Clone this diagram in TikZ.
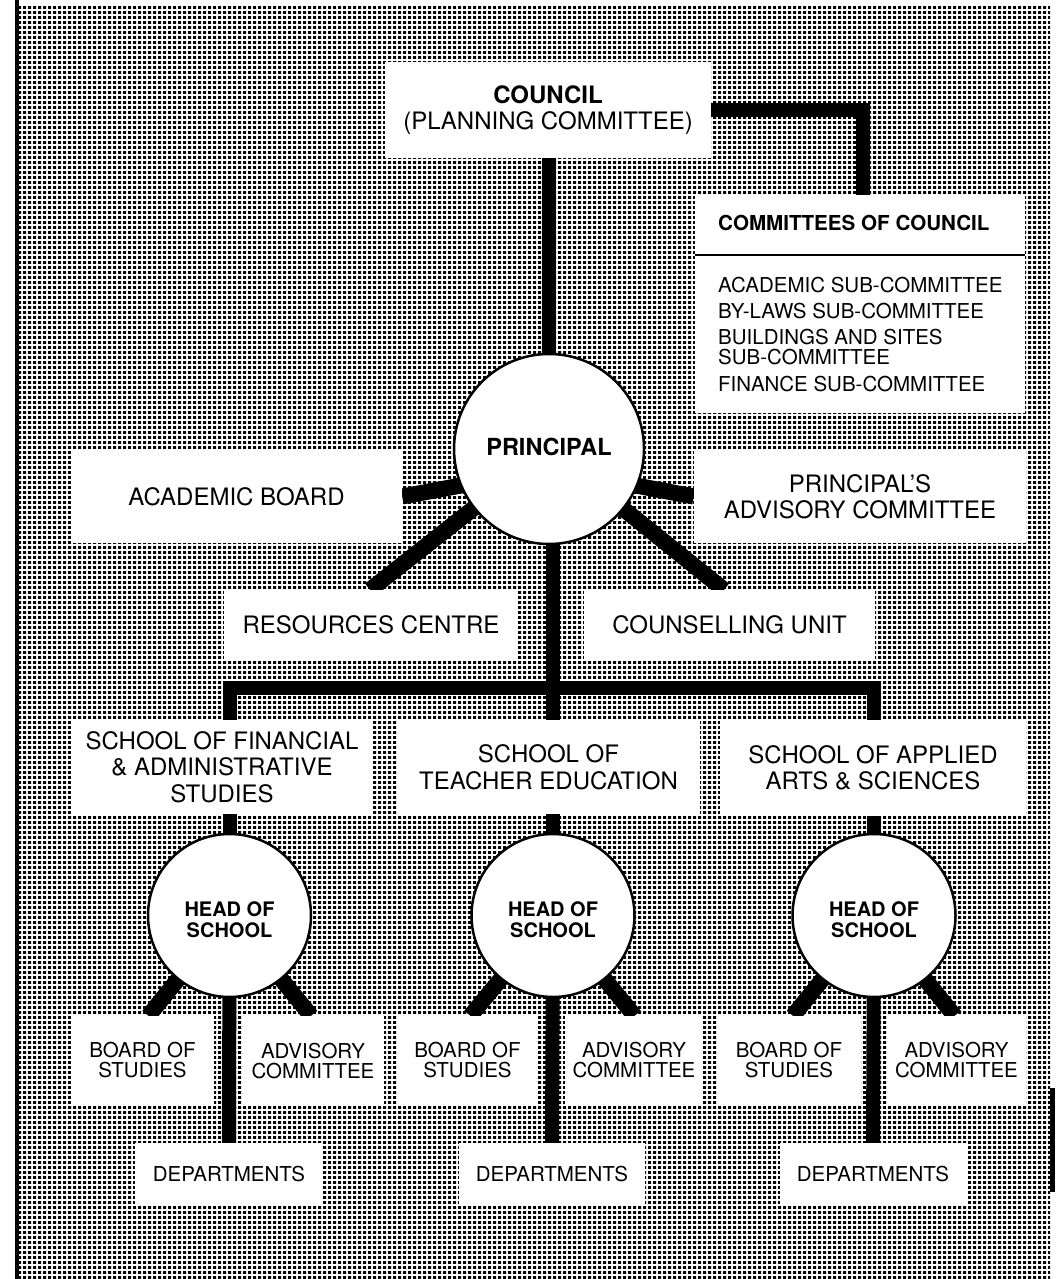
\documentclass[tikz,border=0pt]{standalone}
\usepackage{fontspec}
\setmainfont{TeX Gyre Heros}
\usetikzlibrary{patterns}
\pgfdeclarepatternformonly{halftone}{\pgfpointorigin}{\pgfpoint{4.6pt}{4.5pt}}{\pgfpoint{4.6pt}{4.5pt}}{%
  \pgfpathrectangle{\pgfpointorigin}{\pgfpoint{3.3pt}{3.1pt}}\pgfusepath{fill}}
\pgfdeclarelayer{bg}
\pgfdeclarelayer{links}
\pgfsetlayers{bg,links,main}
\begin{document}
\begin{tikzpicture}[x=1pt,y=-1pt,
  box/.style={fill=white, inner sep=0pt, align=center, text=black},
  big/.style={font=\fontsize{24}{26.5}\selectfont},
  small/.style={font=\fontsize{20.5}{20.5}\selectfont},
  bigb/.style={font=\bfseries\fontsize{23.5}{26.5}\selectfont},
  smallb/.style={font=\bfseries\fontsize{20}{21.5}\selectfont},
  item/.style={font=\fontsize{20.5}{20.5}\selectfont, anchor=base west, inner sep=0pt},
  conn/.style={line width=14pt, black, line join=miter, line cap=butt},
  slant/.style={line width=16pt, black, line cap=butt},
  ring/.style={circle, fill=white, draw=black, line width=2.5pt, inner sep=0pt, align=center},
  ringtext/.style={smallb, align=center, inner sep=0pt},
]
\useasboundingbox (0,0) rectangle (1055,1279);

% ---------- background ----------
\begin{pgfonlayer}{bg}
  \fill[pattern=halftone, pattern color=black] (19,5) rectangle (1050,1279);
  \fill[black] (14.5,0) rectangle (19,1279);
  \fill[black] (1050,1088) rectangle (1055,1192);
\end{pgfonlayer}

% ---------- top level ----------
\node[box, big, minimum width=326pt, minimum height=95pt] (council) at (548,110)
  {\textbf{COUNCIL}\\(PLANNING COMMITTEE)};
\node[box, minimum width=330pt, minimum height=218pt] (comm) at (860,304) {};
\draw[line width=1.5pt] ([yshift=-60pt]comm.north west) -- ([yshift=-60pt]comm.north east);
\node[font=\bfseries\fontsize{20.6}{21.5}\selectfont, anchor=base west, inner sep=0pt] (commh) at (718,230) {COMMITTEES OF COUNCIL};
\node[item] (ci1) at (718,292.4) {ACADEMIC SUB-COMMITTEE};
\node[item] (ci2) at (718,318.4) {BY-LAWS SUB-COMMITTEE};
\node[item] (ci3) at (718,344.4) {BUILDINGS AND SITES};
\node[item] (ci4) at (718,364.4) {SUB-COMMITTEE};
\node[item] (ci5) at (718,391.4) {FINANCE SUB-COMMITTEE};

\node[ring, minimum size=190pt] (principal) at (549,449) {};
\node[bigb, inner sep=0pt] (principalt) at ([yshift=2pt]principal.center) {PRINCIPAL};

\node[box, big, minimum width=331pt, minimum height=93pt] (acad) at (236.5,496.5) {ACADEMIC BOARD};
\node[box, big, minimum width=332pt, minimum height=93pt] (padv) at (860,496.5) {PRINCIPAL'S\\ADVISORY COMMITTEE};
\node[box, big, minimum width=294pt, minimum height=70pt] (res) at (371,625) {RESOURCES CENTRE};
\node[box, big, minimum width=291pt, minimum height=70pt] (couns) at (729.5,625) {COUNSELLING UNIT};

% ---------- schools ----------
\node[box, big, minimum width=302pt, minimum height=94pt] (school1) at (222,767)
  {SCHOOL OF FINANCIAL\\\& ADMINISTRATIVE\\STUDIES};
\node[box, big, minimum width=303pt, minimum height=94pt] (school2) at (548.5,767)
  {SCHOOL OF\\TEACHER EDUCATION};
\node[box, big, minimum width=306pt, minimum height=96pt] (school3) at (873,768)
  {SCHOOL OF APPLIED\\ARTS \& SCIENCES};

\node[ring, minimum size=163pt] (head1) at (229.5,915.5) {};
\node[ring, minimum size=163pt] (head2) at (553,915.5) {};
\node[ring, minimum size=163pt] (head3) at (874,915.5) {};
\node[ringtext] (head1t) at ([yshift=-4pt]head1.center) {HEAD OF\\SCHOOL};
\node[ringtext] (head2t) at ([yshift=-4pt]head2.center) {HEAD OF\\SCHOOL};
\node[ringtext] (head3t) at ([yshift=-4pt]head3.center) {HEAD OF\\SCHOOL};

\node[box, small, minimum width=143pt, minimum height=88pt] (board1) at (142.5,1060) {BOARD OF\\STUDIES};
\node[box, small, minimum width=142pt, minimum height=90pt] (adv1) at (313,1061) {ADVISORY\\COMMITTEE};
\node[box, small, minimum width=141pt, minimum height=88pt] (board2) at (467.5,1060) {BOARD OF\\STUDIES};
\node[box, small, minimum width=138pt, minimum height=88pt] (adv2) at (634,1060) {ADVISORY\\COMMITTEE};
\node[box, small, minimum width=144pt, minimum height=88pt] (board3) at (789,1060) {BOARD OF\\STUDIES};
\node[box, small, minimum width=139pt, minimum height=88pt] (adv3) at (956.5,1060) {ADVISORY\\COMMITTEE};

\node[box, small, minimum width=188pt, minimum height=63pt] (dept1) at (229,1174.5) {DEPARTMENTS};
\node[box, small, minimum width=186pt, minimum height=63pt] (dept2) at (552,1174.5) {DEPARTMENTS};
\node[box, small, minimum width=187pt, minimum height=63pt] (dept3) at (873,1174.5) {DEPARTMENTS};

\coordinate (hb) at (551,688);

% ---------- connectors ----------
\begin{pgfonlayer}{links}
  \draw[conn] (council.east) -| ([xshift=2.5pt]comm.north);
  \draw[conn] (principal.center) -- (principal.center |- council.south);
  \draw[conn] (head2.north) -- (head2.north |- principal.center);
  \draw[conn] (head1.north) |- (hb) -| (head3.north);
  \draw[slant] ([yshift=-20pt]principal.center) -- (acad.east);
  \draw[slant] ([yshift=-20pt]principal.center) -- (padv.west);
  \draw[slant] (principal.center) -- ([xshift=-1pt]res.north);
  \draw[slant] (principal.center) -- ([xshift=-5.5pt]couns.north);
  \draw[slant] (head1.center) -- ([xshift=6pt]board1.north);
  \draw[slant] (head1.center) -- ([xshift=-2pt]adv1.north);
  \draw[conn] (head1.center) -- (dept1.north);
  \draw[slant] (head2.center) -- ([xshift=3pt]board2.north);
  \draw[slant] (head2.center) -- ([xshift=0.5pt]adv2.north);
  \draw[conn] (head2.center) -- (dept2.north);
  \draw[slant] (head3.center) -- ([xshift=4pt]board3.north);
  \draw[slant] (head3.center) -- ([xshift=-2pt]adv3.north);
  \draw[conn] (head3.center) -- (dept3.north);
\end{pgfonlayer}
\end{tikzpicture}
\end{document}
